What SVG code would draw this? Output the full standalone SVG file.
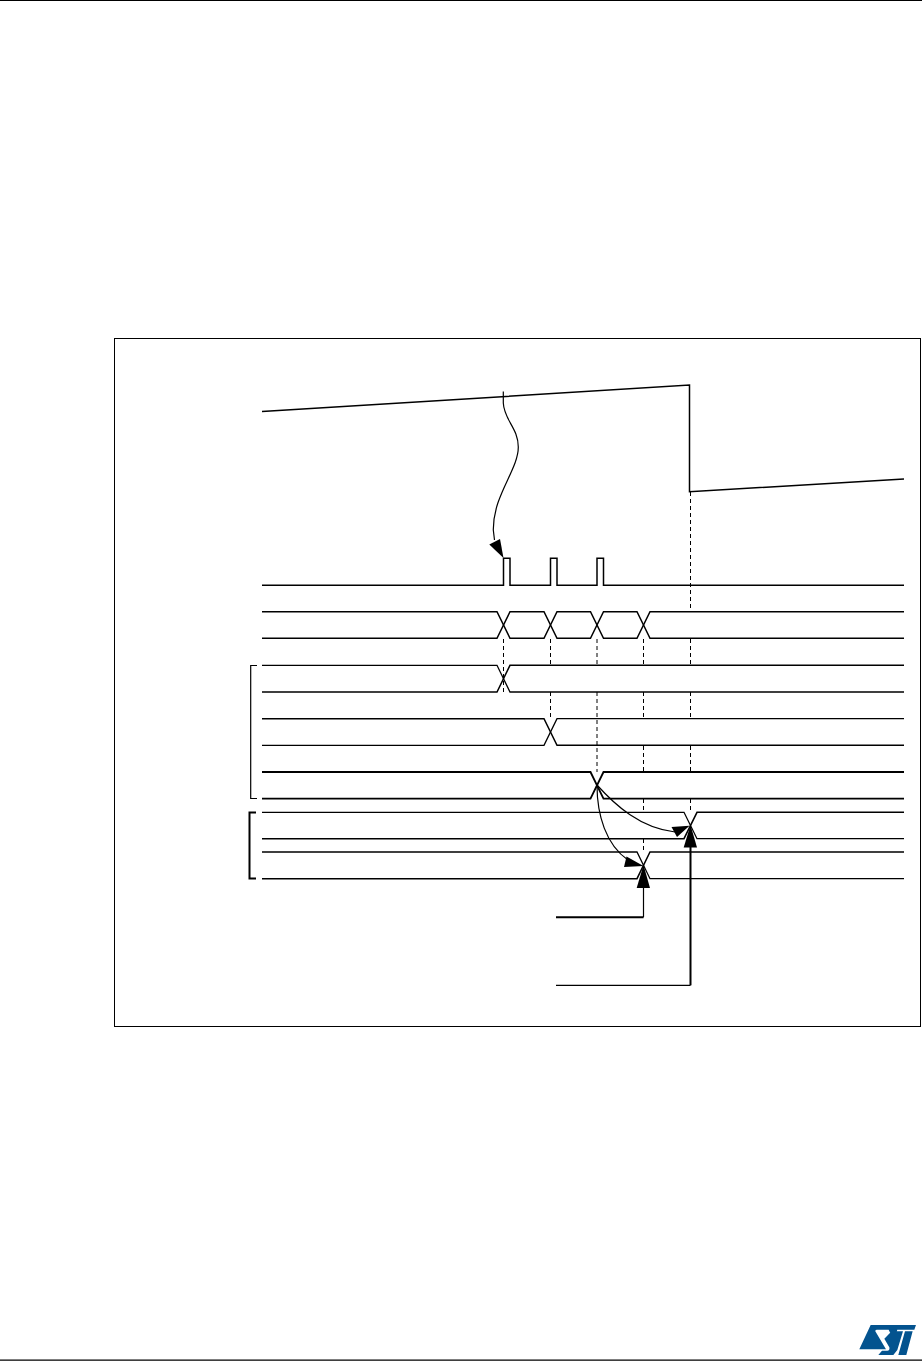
<svg xmlns="http://www.w3.org/2000/svg" width="922" height="1361" viewBox="0 0 922 1361">
<style>
.s{fill:none;stroke:#000;stroke-width:1.5;stroke-linejoin:miter}
.l{fill:none;stroke:#000;stroke-width:1.3}
.b{fill:none;stroke:#000;stroke-width:1.8}
.t{fill:none;stroke:#000;stroke-width:1.2}
.h{fill:none;stroke:#000;stroke-width:2}
.d{fill:none;stroke:#000;stroke-width:1;stroke-dasharray:4 3}
.a{fill:#000;stroke:none}
</style>
<rect width="922" height="1361" fill="#fff"/>
<g id="page-rules"><path class="t" d="M0 .5H922M0 1360.2H922"/></g>
<g id="frame"><rect x="114.5" y="338.5" width="806" height="688" fill="none" stroke="#000" stroke-width="1"/></g>
<g id="connectors">
<path class="d" d="M503.5 639V692M550.5 639V665M550.5 692V718M597 639V665M597 692V772M643.5 639V665M643.5 692V718M643.5 746V772M643.5 799V812M643.5 839V852M690.5 492V611M690.5 639V665M690.5 692V718M690.5 746V772M690.5 799V812"/>
<path class="t" d="M503.3 391.5V403C504 420 518.3 428 518.3 447C518.3 470 493 495 493.3 530L494.5 540"/>
<path class="a" d="M503.5 558L489.3 544.5L500 539Z"/>
<path class="t" d="M597 785C597 815 606 845 628 860"/>
<path class="a" d="M643.5 866L624 867L626.5 856.5Z"/>
<path class="t" d="M597 785C615 805 640 828 675 832"/>
<path class="a" d="M689.5 825.7L677 837L671.5 827Z"/>
<path class="h" d="M556 917.3H643.5"/>
<path class="t" d="M643.5 917.3V885"/>
<path class="a" d="M643.5 865L650 888H636.7Z"/>
<path class="t" d="M556 985.3H690.5"/>
<path class="h" d="M690.5 985.3V845"/>
<path class="a" d="M690.5 825L697 847.5H683.7Z"/>
</g>
<g id="ramp"><path class="s" d="M262 411.5L689.5 385V491.8L904 479"/></g>
<g id="pulses"><path class="s" d="M262 585.3H503.5V558.3H510V585.3H550.5V558.3H557V585.3H597V558.3H603.5V585.3H904"/></g>
<g id="bus-1"><path class="s" d="M262 611.7H497L510 638.3H544L557 611.7H590.5L603.5 638.3H637L650 611.7H904"/><path class="s" d="M262 638.3H497L510 611.7H544L557 638.3H590.5L603.5 611.7H637L650 638.3H904"/></g>
<g id="bus-2"><path class="l" d="M262 665.3H497L510 692H904"/><path class="s" d="M262 692H497L510 665.3H904"/></g>
<g id="bus-3"><path class="s" d="M262 718.7H544L557 745.3H904"/><path class="l" d="M262 745.3H544L557 718.7H904"/></g>
<g id="bus-4"><path class="b" d="M262 772H590.5L603.5 798.7H904"/><path class="b" d="M262 798.7H590.5L603.5 772H904"/></g>
<g id="bus-5"><path class="l" d="M262 812.3H684L697 838.7H904"/><path class="s" d="M262 838.7H684L697 812.3H904"/></g>
<g id="bus-6"><path class="l" d="M262 852H637L650 878.7H904"/><path class="s" d="M262 878.7H637L650 852H904"/></g>
<g id="bracket-1"><path class="t" d="M257 665.5H250.7V798.5H257"/></g>
<g id="bracket-2"><path class="h" d="M256 812.5H249.5V878.5H256"/></g>
<g id="logo" transform="translate(780 1290) scale(.3333)"><path fill="#03538f" d="M272 105H408L403 119H352L341 150L326 119H290Q285 119 286 124L318 178H238ZM335 124H369L352 180L340 195H295L306 182H322Q330 182 328 172L313 146ZM375 124H398L379 195H355Z"/></g>
</svg>
